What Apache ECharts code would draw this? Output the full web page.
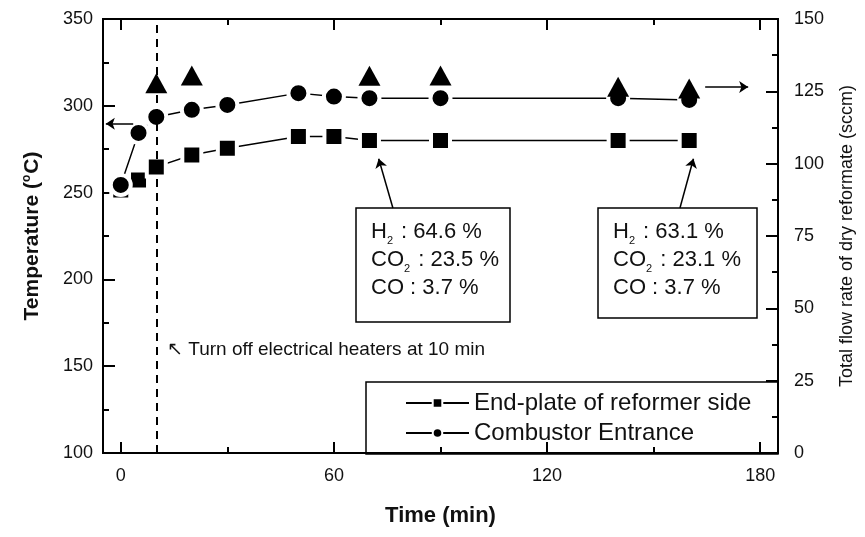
<!DOCTYPE html>
<html><head><meta charset="utf-8">
<script src="https://cdn.jsdelivr.net/npm/echarts@6/dist/echarts.min.js"></script>
<style>html,body{margin:0;padding:0;background:#fff}#c{width:865px;height:537px}</style>
</head><body><div id="c"></div>
<script>
// ---- data ----
const time = [0, 5, 10, 20, 30, 50, 60, 70, 90, 140, 160];
const endPlate = [251.5, 257.3, 264.8, 271.7, 275.6, 282.3, 282.3, 280, 280, 280, 280];
const combustor = [254.4, 284.4, 293.6, 297.7, 300.5, 307.3, 305.3, 304.4, 304.4, 304.4, 303.4];
const flowTime = [10, 20, 70, 90, 140, 160];
const flowRate = [127.8, 130.5, 130.4, 130.5, 126.6, 126.0];
const xMajorTicks = [0, 60, 120, 180];
const xMinorTicks = [30, 90, 150];
const heaterOffTime = 10;
const names = ['End-plate of reformer side', 'Combustor Entrance'];
const box1Lines = ['H{sub|2} : 64.6 %', 'CO{sub|2} : 23.5 %', 'CO : 3.7 %'];
const box2Lines = ['H{sub|2} : 63.1 %', 'CO{sub|2} : 23.1 %', 'CO : 3.7 %'];
const noteText = '\u2196 Turn off electrical heaters at 10 min';

const FONT = 'Liberation Sans, Arial, sans-serif';
const BLACK = '#000';
const zip = (a, b) => a.map((v, i) => [v, b[i]]);

const chart = echarts.init(document.getElementById('c'));
const axisLine = {show: true, onZero: false, lineStyle: {color: BLACK, width: 2}};
function xAx(pos, ticks, len, labels, extra) {
  return Object.assign({
    type: 'value', min: -5, max: 185, position: pos,
    axisLine: axisLine,
    axisTick: {show: true, inside: true, length: len, customValues: ticks, lineStyle: {color: BLACK, width: 2}},
    axisLabel: labels ? {show: true, customValues: labels, fontSize: 18, color: '#111', fontFamily: FONT, margin: 14} : {show: false},
    splitLine: {show: false}
  }, extra || {});
}
const arrowLine = {color: BLACK, width: 1.5, type: 'solid'};
function arrow(x1, y1, x2, y2) {
  return [{coord: [x1, y1], symbol: 'none'}, {coord: [x2, y2], symbol: 'arrow'}];
}
const subRich = {sub: {fontSize: 11, fontFamily: FONT, fill: '#111', verticalAlign: 'bottom', padding: [10, 2, 0, 0]}};

chart.setOption({
  animation: false,
  backgroundColor: '#fff',
  grid: {left: 103, right: 87, top: 19, bottom: 84},
  xAxis: [
    xAx('bottom', xMajorTicks, 11, xMajorTicks, {
      name: 'Time (min)', nameLocation: 'middle', nameGap: 52,
      nameTextStyle: {fontSize: 22, fontWeight: 'bold', color: '#111', fontFamily: FONT}
    }),
    xAx('bottom', xMinorTicks, 6, null),
    xAx('top', xMajorTicks, 11, null),
    xAx('top', xMinorTicks, 6, null)
  ],
  yAxis: [
    {
      type: 'value', min: 100, max: 350, interval: 50, position: 'left',
      axisLine: axisLine,
      axisTick: {show: true, inside: true, length: 12, lineStyle: {color: BLACK, width: 2}},
      minorTick: {show: true, splitNumber: 2, length: 6, lineStyle: {color: BLACK, width: 2}},
      axisLabel: {fontSize: 18, color: '#111', fontFamily: FONT, margin: 10},
      splitLine: {show: false}, minorSplitLine: {show: false},
      name: 'Temperature ({sup|o}C)', nameLocation: 'middle', nameGap: 60,
      nameTextStyle: {fontSize: 21, fontWeight: 'bold', color: '#111', fontFamily: FONT,
        rich: {sup: {fontSize: 12, fontWeight: 'bold', color: '#111', fontFamily: FONT, verticalAlign: 'top', padding: [0, 1, 10, 0]}}}
    },
    {
      type: 'value', min: 0, max: 150, interval: 25, position: 'right',
      axisLine: axisLine,
      axisTick: {show: true, inside: true, length: 12, lineStyle: {color: BLACK, width: 2}},
      minorTick: {show: true, splitNumber: 2, length: 6, lineStyle: {color: BLACK, width: 2}},
      axisLabel: {fontSize: 18, color: '#111', fontFamily: FONT, margin: 16},
      splitLine: {show: false}, minorSplitLine: {show: false},
      name: 'Total flow rate of dry reformate (sccm)', nameLocation: 'middle', nameGap: 60,
      nameTextStyle: {fontSize: 18, color: '#111', fontFamily: FONT}
    }
  ],
  legend: {
    data: names, orient: 'vertical', left: 400, top: 386,
    itemWidth: 63, itemHeight: 12, itemGap: 6,
    textStyle: {fontSize: 24, color: '#111', fontFamily: FONT}
  },
  series: [
    {
      name: names[0], type: 'line', xAxisIndex: 0, yAxisIndex: 0, z: 2,
      data: zip(time, endPlate),
      symbol: 'rect', symbolSize: 19,
      itemStyle: {color: BLACK, borderColor: '#fff', borderWidth: 4},
      lineStyle: {color: BLACK, width: 1.5},
      markLine: {
        silent: true, symbol: 'none', label: {show: false},
        lineStyle: {color: BLACK, width: 2, type: [8, 6]},
        data: [{xAxis: heaterOffTime}]
      }
    },
    {
      name: names[1], type: 'line', xAxisIndex: 0, yAxisIndex: 0, z: 3,
      data: zip(time, combustor),
      symbol: 'circle', symbolSize: 20,
      itemStyle: {color: BLACK, borderColor: '#fff', borderWidth: 4},
      lineStyle: {color: BLACK, width: 1.5},
      markLine: {
        silent: true, label: {show: false}, symbolSize: 9,
        lineStyle: arrowLine,
        data: [
          arrow(3.5, 289.6, -4.2, 289.6),
          arrow(76.6, 241.1, 72.6, 269.5),
          arrow(157.4, 241.1, 161.2, 269.5)
        ]
      }
    },
    {
      name: 'Flow rate', type: 'scatter', xAxisIndex: 0, yAxisIndex: 1, z: 4,
      data: zip(flowTime, flowRate),
      symbol: 'triangle', symbolSize: [22, 20],
      itemStyle: {color: BLACK, opacity: 1},
      markLine: {
        silent: true, label: {show: false}, symbolSize: 9,
        lineStyle: arrowLine,
        data: [arrow(164.5, 126.5, 176.6, 126.5)]
      }
    }
  ],
  graphic: [
    {type: 'rect', shape: {x: 366, y: 382, width: 412, height: 72}, style: {fill: 'none', stroke: BLACK, lineWidth: 1.5}, z: 1},
    {type: 'rect', shape: {x: 356, y: 208, width: 154, height: 114}, style: {fill: '#fff', stroke: BLACK, lineWidth: 1.5}, z: 5},
    {type: 'rect', shape: {x: 598, y: 208, width: 159, height: 110}, style: {fill: '#fff', stroke: BLACK, lineWidth: 1.5}, z: 5},
    {type: 'text', z: 6, style: {x: 371, y: 260, text: box1Lines.join('\n'), font: '22px ' + FONT, fill: '#111', verticalAlign: 'middle', lineHeight: 28, rich: subRich}},
    {type: 'text', z: 6, style: {x: 613, y: 260, text: box2Lines.join('\n'), font: '22px ' + FONT, fill: '#111', verticalAlign: 'middle', lineHeight: 28, rich: subRich}},
    {type: 'text', z: 6, style: {x: 167, y: 350, text: noteText, font: '19px ' + FONT, fill: '#111', verticalAlign: 'middle'}}
  ]
});
</script></body></html>
